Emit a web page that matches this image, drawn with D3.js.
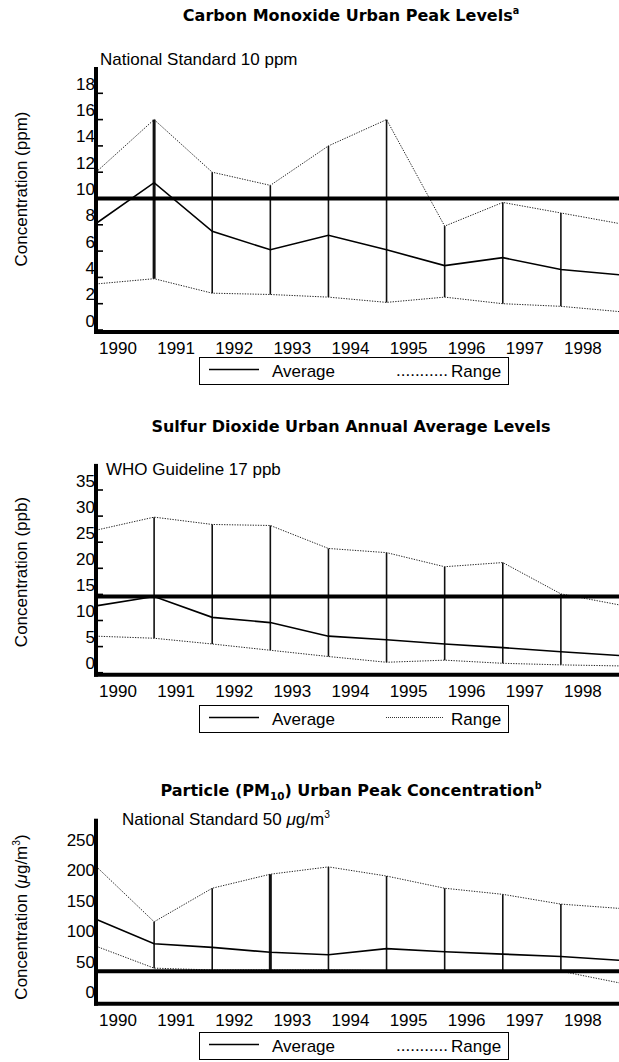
<!DOCTYPE html>
<html lang="en">
<head>
<meta charset="utf-8">
<title>Urban air quality 1990-1998</title>
<script src="https://d3js.org/d3.v7.min.js"></script>
<style>
  body { margin: 0; background: #fff; }
  text { font-family: "Liberation Sans", Arial, Helvetica, sans-serif; fill: #000; }
  .title { font-family: "DejaVu Sans", sans-serif; font-weight: bold; font-size: 16px; }
  .lbl { font-size: 17px; }
</style>
</head>
<body>
<script>
var w = 619;
var h = 1062;

// data, one point per year (1999 sits on the right edge)
var years = [1990, 1991, 1992, 1993, 1994, 1995, 1996, 1997, 1998, 1999];
var yearLabels = ["1990", "1991", "1992", "1993", "1994", "1995", "1996", "1997", "1998"];

var coMax = [12, 16, 12, 11, 14, 16, 7.9, 9.7, 8.9, 8.1];
var coAvg = [8.1, 11.2, 7.5, 6.1, 7.2, 6.1, 4.9, 5.5, 4.6, 4.2];
var coMin = [3.5, 3.9, 2.8, 2.7, 2.5, 2.1, 2.5, 2.0, 1.8, 1.4];
var coTicks = [0, 2, 4, 6, 8, 10, 12, 14, 16, 18];
var coStd = 10;

var so2Max = [27.3, 29.8, 28.4, 28.2, 23.8, 23.0, 20.3, 21.1, 15.1, 13.0];
var so2Avg = [12.8, 14.6, 10.6, 9.6, 7.0, 6.3, 5.5, 4.8, 4.0, 3.3];
var so2Min = [7.0, 6.6, 5.5, 4.3, 3.1, 2.0, 2.4, 1.8, 1.5, 1.3];
var so2Ticks = [0, 5, 10, 15, 20, 25, 30, 35];
var so2Std = 14.6;

var pmMax = [222, 131, 186, 209, 221, 206, 186, 176, 160, 153];
var pmAvg = [135, 95, 89, 81, 77, 87, 82, 78, 74, 68];
var pmMin = [91, 55, 52, 52, 52, 51, 51, 51, 50, 31];
var pmTicks = [0, 50, 100, 150, 200, 250];
var pmStd = 50;

var svg = d3.select("body")
  .append("svg")
  .attr("width", w)
  .attr("height", h);

var xScale = d3.scaleLinear()
  .domain([1990, 1999])
  .range([96, 619]);

// text made of plain / sup / sub / italic pieces
function richText(sel, parts) {
  var shift = 0;
  parts.forEach(function(p) {
    var t = sel.append("tspan").text(p.t);
    var want = p.sup ? -7 : (p.sub ? 4 : 0);
    if (want !== shift) t.attr("dy", want - shift);
    shift = want;
    if (p.sup) t.style("font-size", "0.6em");
    if (p.sub) t.style("font-size", "0.65em");
    if (p.it) t.style("font-style", "italic");
  });
  return sel;
}

function panel(o) {
  var g = svg.append("g");
  var yScale = d3.scaleLinear().domain(o.domain).range(o.range);
  var y0 = yScale(0);

  // title
  richText(g.append("text")
    .attr("class", "title")
    .attr("x", 351)
    .attr("y", o.titleY)
    .attr("text-anchor", "middle"), o.title);

  // y axis label
  richText(g.append("text")
    .attr("class", "lbl")
    .attr("text-anchor", "middle")
    .attr("transform", "translate(27," + o.yLabelMid + ") rotate(-90)"), o.yLabel);

  // standard label
  richText(g.append("text")
    .attr("class", "lbl")
    .attr("x", o.stdX)
    .attr("y", o.stdY), o.stdText);

  // range lines
  var line = function(arr) {
    return d3.line()
      .x(function(d, i) { return xScale(years[i]); })
      .y(function(d) { return yScale(d); })(arr);
  };
  [o.max, o.min].forEach(function(arr) {
    g.append("path")
      .attr("d", line(arr))
      .attr("fill", "none")
      .attr("stroke", "#222")
      .attr("stroke-width", 1)
      .attr("stroke-dasharray", "1.3,1.3");
  });

  // vertical range bars
  g.selectAll(".bar")
    .data(d3.range(1, 9))
    .enter()
    .append("line")
    .attr("x1", function(i) { return xScale(years[i]); })
    .attr("x2", function(i) { return xScale(years[i]); })
    .attr("y1", function(i) { return yScale(o.min[i]); })
    .attr("y2", function(i) { return yScale(o.max[i]); })
    .attr("stroke", "#111")
    .attr("stroke-width", function(i) { return i === o.thick ? 3 : 1.6; });

  // average
  g.append("path")
    .attr("d", line(o.avg))
    .attr("fill", "none")
    .attr("stroke", "#000")
    .attr("stroke-width", 1.6);

  // standard line
  g.append("line")
    .attr("x1", 96).attr("x2", w)
    .attr("y1", yScale(o.std)).attr("y2", yScale(o.std))
    .attr("stroke", "#000")
    .attr("stroke-width", 4);

  // axes
  var top = yScale(o.domain[1]);
  g.append("line")
    .attr("x1", 96).attr("x2", 96)
    .attr("y1", top).attr("y2", y0 + 4)
    .attr("stroke", "#000").attr("stroke-width", 4);
  g.append("line")
    .attr("x1", 94).attr("x2", w)
    .attr("y1", y0 + 2).attr("y2", y0 + 2)
    .attr("stroke", "#000").attr("stroke-width", 4);

  // y ticks (mark below its label)
  if (o.tickMarks) {
    g.selectAll(".tick")
      .data(o.ticks)
      .enter()
      .append("line")
      .attr("x1", 96).attr("x2", 103)
      .attr("y1", function(d) { return yScale(d); })
      .attr("y2", function(d) { return yScale(d); })
      .attr("stroke", "#000").attr("stroke-width", 1.6);
  }
  g.selectAll(".ylab")
    .data(o.ticks)
    .enter()
    .append("text")
    .attr("class", "lbl")
    .attr("x", 95)
    .attr("y", function(d) { return yScale(d) - 3.5; })
    .attr("text-anchor", "end")
    .text(function(d) { return d; });

  // year labels
  g.selectAll(".xlab")
    .data(yearLabels)
    .enter()
    .append("text")
    .attr("class", "lbl")
    .attr("x", function(d) { return xScale(+d) + 22; })
    .attr("y", y0 + 24)
    .attr("text-anchor", "middle")
    .text(function(d) { return d; });

  // legend
  var ly = o.legendY;
  g.append("rect")
    .attr("x", 199.5).attr("y", ly + 0.5)
    .attr("width", 309).attr("height", 27)
    .attr("fill", "none").attr("stroke", "#000");
  g.append("line")
    .attr("x1", 209).attr("x2", 259)
    .attr("y1", ly + 12.5).attr("y2", ly + 12.5)
    .attr("stroke", "#000").attr("stroke-width", 1.3);
  g.append("text").attr("class", "lbl")
    .attr("x", 272).attr("y", ly + 20).text("Average");
  if (o.legendDots) {
    g.append("text").attr("class", "lbl")
      .attr("x", 396).attr("y", ly + 19).text("...........");
  } else {
    g.append("line")
      .attr("x1", 386).attr("x2", 444)
      .attr("y1", ly + 12.5).attr("y2", ly + 12.5)
      .attr("stroke", "#333").attr("stroke-width", 1)
      .attr("stroke-dasharray", "1,1");
  }
  g.append("text").attr("class", "lbl")
    .attr("x", 451).attr("y", ly + 20).text("Range");
}

panel({
  title: [{ t: "Carbon Monoxide Urban Peak Levels" }, { t: "a", sup: true }],
  titleY: 21,
  domain: [0, 20], range: [330, 67],
  ticks: coTicks, tickMarks: true,
  yLabel: [{ t: "Concentration (ppm)" }], yLabelMid: 189,
  stdText: [{ t: "National Standard 10 ppm" }], stdX: 100, stdY: 65,
  max: coMax, avg: coAvg, min: coMin, std: coStd, thick: 1,
  legendY: 357, legendDots: true
});

panel({
  title: [{ t: "Sulfur Dioxide Urban Annual Average Levels" }],
  titleY: 432,
  domain: [0, 40], range: [672.7, 463.9],
  ticks: so2Ticks, tickMarks: true,
  yLabel: [{ t: "Concentration (ppb)" }], yLabelMid: 572,
  stdText: [{ t: "WHO Guideline 17 ppb" }], stdX: 106, stdY: 475,
  max: so2Max, avg: so2Avg, min: so2Min, std: so2Std, thick: -1,
  legendY: 705, legendDots: false
});

panel({
  title: [{ t: "Particle (PM" }, { t: "10", sub: true }, { t: ") Urban Peak Concentration" }, { t: "b", sup: true }],
  titleY: 796,
  domain: [0, 300], range: [1001.7, 818.7],
  ticks: pmTicks, tickMarks: false,
  yLabel: [{ t: "Concentration (" }, { t: "\u03bc", it: true }, { t: "g/m" }, { t: "3", sup: true }, { t: ")" }], yLabelMid: 917,
  stdText: [{ t: "National Standard 50 " }, { t: "\u03bc", it: true }, { t: "g/m" }, { t: "3", sup: true }], stdX: 122, stdY: 825,
  max: pmMax, avg: pmAvg, min: pmMin, std: pmStd, thick: 3,
  legendY: 1032, legendDots: true
});
</script>
</body>
</html>
